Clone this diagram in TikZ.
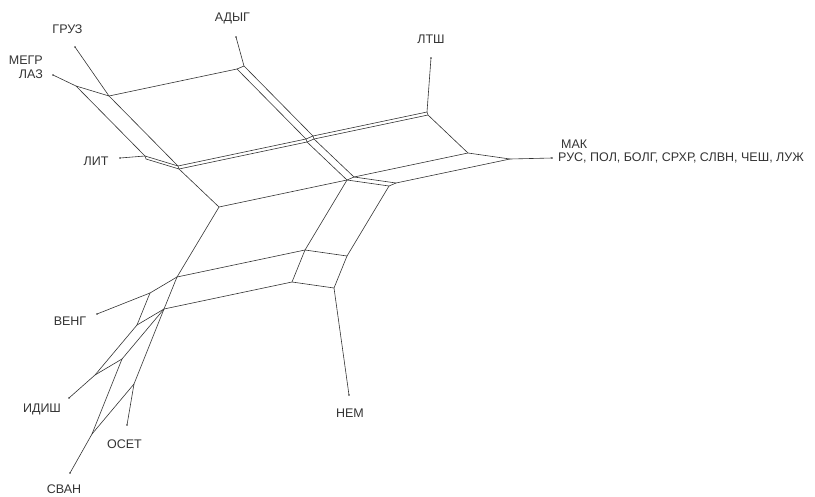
\documentclass[tikz,border=0pt]{standalone}
\usepackage{fontspec}
\setmainfont{Liberation Sans}
\begin{document}
\begin{tikzpicture}[x=1pt,y=-1pt,
  edge/.style={draw=black!80,line width=0.6pt},
  lab/.style={inner sep=0pt,font=\fontsize{12.5}{14}\selectfont,text=black!80}]
\useasboundingbox (0,0) rectangle (815,496);
% vertices
\coordinate (tM) at (53,75);
\coordinate (tG) at (75,47);
\coordinate (A1) at (76,86);
\coordinate (A2) at (109,96);
\coordinate (L1) at (145,156);
\coordinate (Lh) at (146,159);
\coordinate (tL) at (120,158);
\coordinate (C1) at (178,166);
\coordinate (Ch) at (179,169);
\coordinate (AD1) at (237,69);
\coordinate (AD2) at (244,66);
\coordinate (tA) at (236,37);
\coordinate (X1) at (306,139);
\coordinate (Xt) at (313,136);
\coordinate (Xh) at (307,142);
\coordinate (Xth) at (314,139);
\coordinate (LT1) at (427,112);
\coordinate (LT2) at (428,115);
\coordinate (tLT) at (431,58);
\coordinate (D1) at (219,207);
\coordinate (Yl) at (347,180);
\coordinate (Yr) at (354,177);
\coordinate (R1) at (468,153);
\coordinate (Yz) at (389,186);
\coordinate (Y2) at (396,183);
\coordinate (M) at (510,159);
\coordinate (tK) at (552,158);
\coordinate (E1) at (177,277);
\coordinate (F1) at (305,250);
\coordinate (F2) at (347,256);
\coordinate (G1) at (292,282);
\coordinate (G2) at (334,288);
\coordinate (tN) at (349,395);
\coordinate (H1) at (164,309);
\coordinate (V1) at (150,293);
\coordinate (tV) at (97,314);
\coordinate (I1) at (137,325);
\coordinate (I2) at (95,375);
\coordinate (tI) at (69,398);
\coordinate (K1) at (122,359);
\coordinate (O1) at (134,384);
\coordinate (tO) at (127,425);
\coordinate (S1) at (92,434);
\coordinate (tS) at (70,473);
% edges
\foreach \a/\b in {tM/A1, A1/A2, tG/A2,
  A1/L1, A2/C1, L1/C1, Lh/Ch, L1/Lh, C1/Ch, tL/L1,
  A2/AD1, AD1/AD2, tA/AD2,
  AD1/X1, AD2/Xt, C1/X1, Ch/Xh, X1/Xt, Xh/Xth, X1/Xh, Xt/Xth,
  Xt/LT1, Xth/LT2, LT1/LT2, tLT/LT1,
  Ch/D1, Xh/Yl, Xth/Yr, D1/Yl, Yl/Yr, LT2/R1, Yr/R1,
  Yl/Yz, Yr/Y2, Yz/Y2, R1/M, Y2/M, M/tK,
  D1/E1, Yl/F1, Yz/F2, E1/F1, F1/F2,
  F1/G1, F2/G2, G1/G2, G2/tN,
  E1/H1, G1/H1, E1/V1, V1/tV, H1/I1, V1/I1,
  I1/I2, H1/K1, K1/I2, I2/tI,
  H1/O1, K1/S1, O1/S1, O1/tO, S1/tS}
  \draw[edge] (\a) -- (\b);
\foreach \p in {tM,tG,tL,tA,tLT,tK,tN,tV,tI,tO,tS}
  \fill[black!80] (\p) circle (0.9);
% labels
\node[lab,anchor=base] (nG) at (67.5,33) {ГРУЗ};
\node[lab,anchor=base east] (nM) at (43,64) {МЕГР};
\node[lab,anchor=base east] (nZ) at (43,78) {ЛАЗ};
\node[lab,anchor=base] (nA) at (232.5,21.5) {АДЫГ};
\node[lab,anchor=base] (nLT) at (431,43) {ЛТШ};
\node[lab,anchor=base west] (nK) at (561,148) {МАК};
\node[lab,anchor=base west] (nR) at (558,161) {РУС, ПОЛ, БОЛГ, СРХР, СЛВН, ЧЕШ, ЛУЖ};
\node[lab,anchor=base] (nL) at (96,165) {ЛИТ};
\node[lab,anchor=base] (nN) at (350,417) {НЕМ};
\node[lab,anchor=base] (nV) at (70,325) {ВЕНГ};
\node[lab,anchor=base] (nI) at (42,412) {ИДИШ};
\node[lab,anchor=base] (nO) at (124.5,448) {ОСЕТ};
\node[lab,anchor=base] (nS) at (64,493) {СВАН};
\end{tikzpicture}
\end{document}
